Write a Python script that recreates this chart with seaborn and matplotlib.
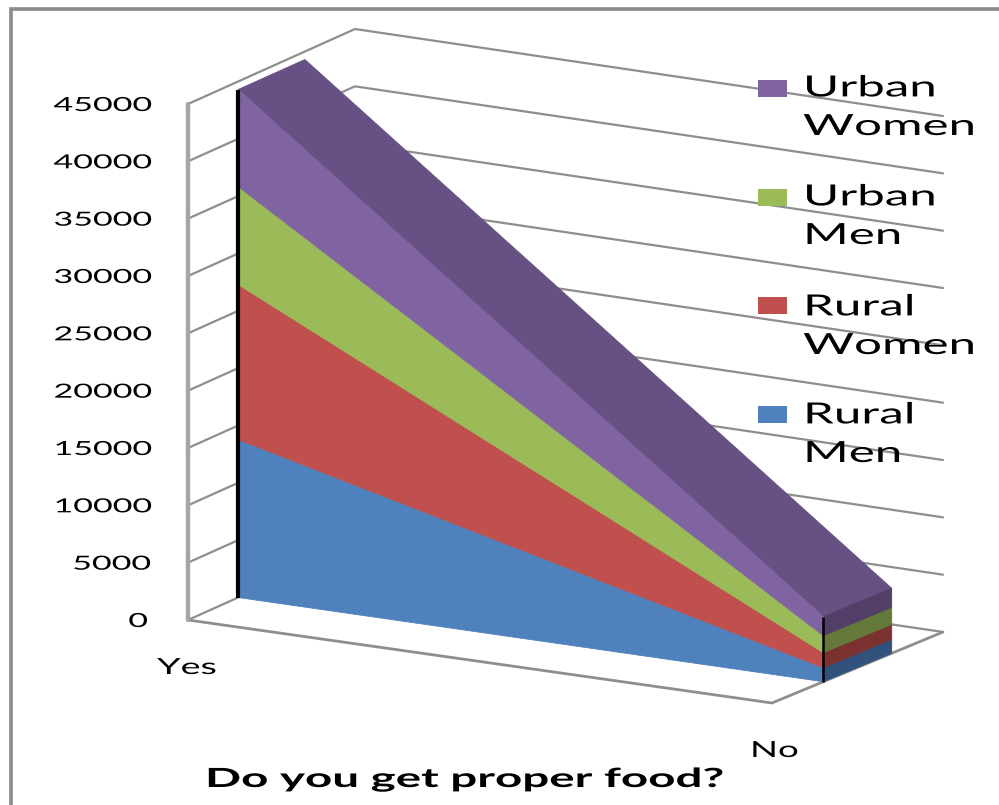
import numpy as np
import pandas as pd
import matplotlib
matplotlib.use('Agg')
import matplotlib.pyplot as plt
from matplotlib.patches import Rectangle
from matplotlib.patheffects import AbstractPathEffect
from matplotlib.transforms import Affine2D
import seaborn as sns

# data
categories = ['Yes', 'No']
rural_men = [13780, 1220]
rural_women = [13520, 1310]
urban_men = [8540, 1480]
urban_women = [8460, 1660]
series_names = ['Rural\nMen', 'Rural\nWomen', 'Urban\nMen', 'Urban\nWomen']
y_ticks = [0, 5000, 10000, 15000, 20000, 25000, 30000, 35000, 40000, 45000]
x_title = 'Do you get proper food?'

front_colors = ['#4F81BD', '#C0504D', '#9BBB59', '#8064A2']
side_colors = ['#30527C', '#7A3230', '#637839', '#523F68']
top_color = '#665084'
grid_color = '#8E8E8E'


class Stretch(AbstractPathEffect):
    """The reference image is squashed, so widen the glyphs."""
    def __init__(self, sx):
        super().__init__()
        self.sx = sx

    def draw_path(self, renderer, gc, tpath, affine, rgbFace=None):
        renderer.draw_path(gc, tpath, Affine2D().scale(self.sx, 1) + affine, rgbFace)


def project(c, v, d):
    """c along categories, v value, d depth (0 front, 1 back) -> picture pixels"""
    x = 188 + 584 * c + 167 * d + 4 * c * d
    y = 620 + 83 * c - 75 * d + 4 * c * d - v * 516 / 45000
    return x, y


def label(ax, x, y, s, size, sx, weight='normal', spacing=1.2):
    t = ax.text(x, y, s, fontsize=size, fontweight=weight, ha='left', va='baseline',
                color='black', linespacing=spacing, zorder=6)
    t.set_path_effects([Stretch(sx)])
    return t


sns.set_theme(style='white')
plt.rcParams['font.family'] = ['Lato', 'DejaVu Sans']

fig, ax = plt.subplots(figsize=(9.99, 8.05), dpi=100)
fig.subplots_adjust(left=0, right=1, bottom=0, top=1)

# gridlines: front of side wall -> back corner -> back right
rows = []
for v in y_ticks:
    for c, d in [(0, 0), (0, 1), (1, 1)]:
        px, py = project(c, v, d)
        rows.append({'level': v, 'x': px, 'y': py})
grid = pd.DataFrame(rows)
sns.lineplot(data=grid, x='x', y='y', units='level', estimator=None, sort=False,
             color=grid_color, lw=1.6, ax=ax, zorder=1)

# floor front and right edges
floor = pd.DataFrame([project(c, 0, d) for c, d in [(0, 0), (1, 0), (1, 1)]], columns=['x', 'y'])
sns.lineplot(data=floor, x='x', y='y', estimator=None, sort=False, color=grid_color, lw=2, ax=ax, zorder=1)

# left wall edge
edge = pd.DataFrame([project(0, v, 0) for v in (0, y_ticks[-1])], columns=['x', 'y'])
sns.lineplot(data=edge, x='x', y='y', estimator=None, sort=False, color='#A6A6A6', lw=3.2, ax=ax, zorder=1)

# stacked series
d_front, d_back = 0.3, 0.7
stack = np.array([rural_men, rural_women, urban_men, urban_women], dtype=float)
upper = np.cumsum(stack, axis=0)
lower = upper - stack
cpos = np.arange(len(categories), dtype=float)

# top face first so the front faces sit over its seam
pts = [project(c, upper[-1, k], d_front) for k, c in enumerate(cpos)]
pts += [project(c, upper[-1, k], d_back) for k, c in reversed(list(enumerate(cpos)))]
ax.fill(*zip(*pts), facecolor=top_color, edgecolor=top_color, lw=0.6, zorder=3)

for i in range(len(stack)):
    # side face at No
    pts = [project(1, lower[i, 1], d_front), project(1, lower[i, 1], d_back),
           project(1, upper[i, 1], d_back), project(1, upper[i, 1], d_front)]
    ax.fill(*zip(*pts), facecolor=side_colors[i], edgecolor=side_colors[i], lw=0.6, zorder=3)
    # front face
    pts = [project(c, lower[i, k], d_front) for k, c in enumerate(cpos)]
    pts += [project(c, upper[i, k], d_front) for k, c in reversed(list(enumerate(cpos)))]
    ax.fill(*zip(*pts), facecolor=front_colors[i], edgecolor=front_colors[i], lw=0.6, zorder=3)

# black drop lines at each category
for k, c in enumerate(cpos):
    xs, ys = zip(project(c, 0, d_front), project(c, upper[-1, k], d_front))
    ax.plot(xs, ys, color='black', lw=3.0 if k == 0 else 1.8, solid_capstyle='butt', zorder=4)

# tick labels
for v in y_ticks:
    s = str(v)
    label(ax, 147 - 18.7 * len(s), project(0, v, 0)[1] + 7, s, 14, 1.75)

label(ax, 157, 674, categories[0], 16, 1.7)
label(ax, 750, 757, categories[1], 16, 1.65)
label(ax, 205, 787, x_title, 19, 1.8, weight='bold')

# legend, drawn by hand to keep the swatch beside the first line
legend_y = [406, 297, 189, 80]
legend_base = [462, 354, 244, 135]
for name, col, sy, by in zip(series_names, front_colors, legend_y, legend_base):
    ax.add_patch(Rectangle((758, sy), 29, 17, color=col, lw=0, zorder=5))
    label(ax, 803, by, name, 21, 1.69, spacing=1.6)

# outer frame
ax.plot([11, 11, 999], [805, 9.5, 9.5], color='#8A8A8A', lw=2.6, solid_joinstyle='miter', zorder=2)

ax.set_xlim(0, 999)
ax.set_ylim(805, 0)
ax.axis('off')
fig.savefig('out.png', dpi=100, facecolor='white')
